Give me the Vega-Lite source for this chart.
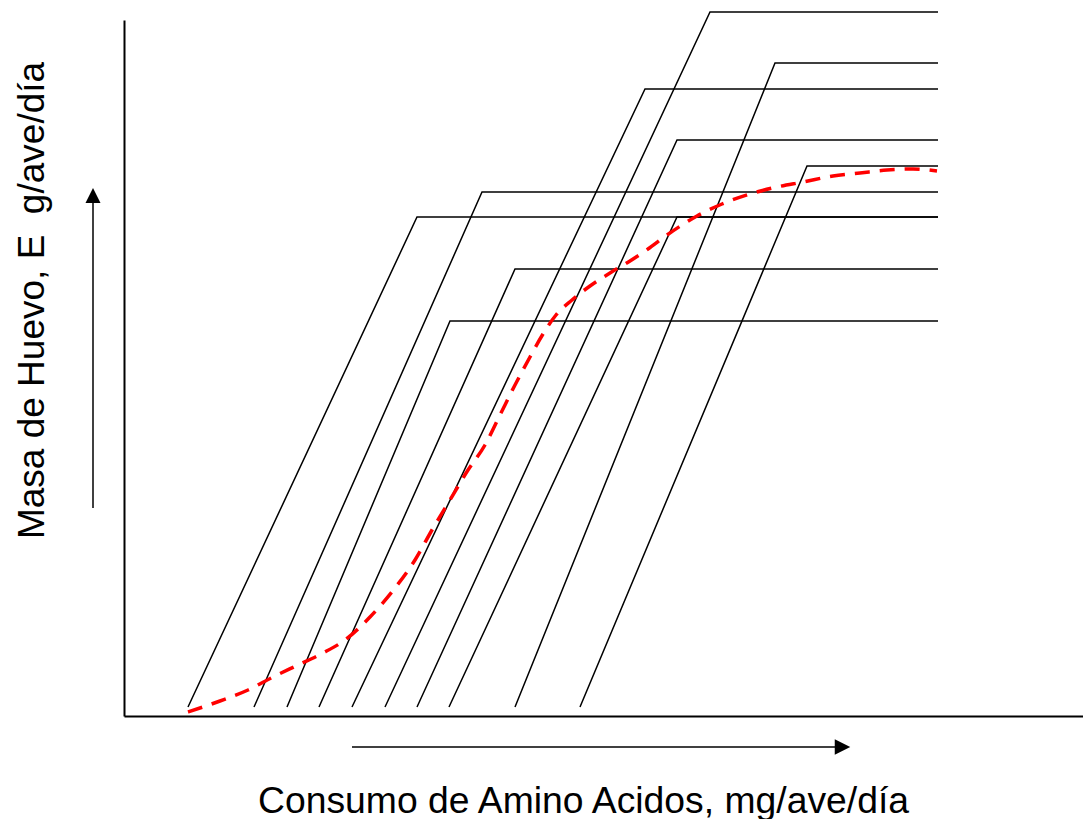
{
  "$schema": "https://vega.github.io/schema/vega-lite/v6.json",
  "width": 959,
  "height": 696,
  "autosize": {"type": "none"},
  "padding": {"left": 124, "top": 20, "right": 0, "bottom": 103},
  "background": "white",
  "config": {
    "view": {"stroke": null},
    "axis": {"grid": false, "ticks": false, "labels": false, "domainColor": "black", "domainWidth": 2,
      "titleFont": "Liberation Sans", "titleFontSize": 37, "titleFontWeight": "normal", "titleColor": "black"}
  },
  "datasets": {
    "lines": [
      {"id": 1, "ord": 0, "x": 64, "y": 9}, {"id": 1, "ord": 1, "x": 293, "y": 499}, {"id": 1, "ord": 2, "x": 814, "y": 499},
      {"id": 2, "ord": 0, "x": 130, "y": 9}, {"id": 2, "ord": 1, "x": 358, "y": 524}, {"id": 2, "ord": 2, "x": 814, "y": 524},
      {"id": 3, "ord": 0, "x": 163, "y": 9}, {"id": 3, "ord": 1, "x": 326, "y": 395}, {"id": 3, "ord": 2, "x": 814, "y": 395},
      {"id": 4, "ord": 0, "x": 195, "y": 9}, {"id": 4, "ord": 1, "x": 391, "y": 447}, {"id": 4, "ord": 2, "x": 814, "y": 447},
      {"id": 5, "ord": 0, "x": 228, "y": 9}, {"id": 5, "ord": 1, "x": 521, "y": 627}, {"id": 5, "ord": 2, "x": 814, "y": 627},
      {"id": 6, "ord": 0, "x": 261, "y": 9}, {"id": 6, "ord": 1, "x": 586, "y": 704}, {"id": 6, "ord": 2, "x": 814, "y": 704},
      {"id": 7, "ord": 0, "x": 293, "y": 9}, {"id": 7, "ord": 1, "x": 553, "y": 576}, {"id": 7, "ord": 2, "x": 814, "y": 576},
      {"id": 8, "ord": 0, "x": 325, "y": 9}, {"id": 8, "ord": 1, "x": 553, "y": 499}, {"id": 8, "ord": 2, "x": 814, "y": 499},
      {"id": 9, "ord": 0, "x": 391, "y": 9}, {"id": 9, "ord": 1, "x": 651, "y": 653}, {"id": 9, "ord": 2, "x": 814, "y": 653},
      {"id": 10, "ord": 0, "x": 456, "y": 9}, {"id": 10, "ord": 1, "x": 683, "y": 550}, {"id": 10, "ord": 2, "x": 814, "y": 550}
    ],
    "curve": [
      {"x": 64, "y": 4}, {"x": 96, "y": 15}, {"x": 124, "y": 26}, {"x": 149, "y": 39}, {"x": 174, "y": 51},
      {"x": 199, "y": 63}, {"x": 221, "y": 76}, {"x": 246, "y": 99}, {"x": 271, "y": 128}, {"x": 291, "y": 156},
      {"x": 308, "y": 186}, {"x": 326, "y": 216}, {"x": 344, "y": 246}, {"x": 361, "y": 271}, {"x": 376, "y": 301},
      {"x": 391, "y": 331}, {"x": 406, "y": 359}, {"x": 419, "y": 382}, {"x": 432, "y": 401}, {"x": 448, "y": 416},
      {"x": 466, "y": 430}, {"x": 486, "y": 443}, {"x": 506, "y": 455}, {"x": 524, "y": 467}, {"x": 543, "y": 481},
      {"x": 573, "y": 500}, {"x": 598, "y": 512}, {"x": 626, "y": 522}, {"x": 653, "y": 529}, {"x": 679, "y": 534},
      {"x": 709, "y": 540}, {"x": 736, "y": 543}, {"x": 763, "y": 546}, {"x": 789, "y": 547}, {"x": 813, "y": 545}
    ],
    "shafts": [
      {"x": -31, "y": 208, "x2": -31, "y2": 515},
      {"x": 228, "y": -31, "x2": 713, "y2": -31}
    ],
    "headUp": [{"x": -31, "y": 520.5}],
    "headRight": [{"x": 718.5, "y": -31}]
  },
  "layer": [
    {
      "data": {"name": "lines"},
      "mark": {"type": "line", "color": "black", "strokeWidth": 1.5},
      "encoding": {
        "x": {"field": "x", "type": "quantitative", "scale": {"domain": [0, 959], "nice": false, "zero": false},
          "axis": {"title": "Consumo de Amino Acidos, mg/ave/día", "titleX": 459, "titleY": 96, "titleBaseline": "alphabetic", "titleAlign": "center", "titleFontSize": 37.3}},
        "y": {"field": "y", "type": "quantitative", "scale": {"domain": [0, 696], "nice": false, "zero": false},
          "axis": {"title": "Masa de Huevo, E\u00a0 g/ave/día", "titleX": -81, "titleY": 280, "titleAngle": -90, "titleBaseline": "alphabetic", "titleAlign": "center"}},
        "detail": {"field": "id"},
        "order": {"field": "ord"}
      }
    },
    {
      "data": {"name": "curve"},
      "mark": {"type": "line", "color": "#ff0000", "strokeWidth": 3.5, "strokeDash": [15, 10], "interpolate": "monotone"},
      "encoding": {
        "x": {"field": "x", "type": "quantitative"},
        "y": {"field": "y", "type": "quantitative"}
      }
    },
    {
      "data": {"name": "shafts"},
      "mark": {"type": "rule", "color": "black", "strokeWidth": 1.5},
      "encoding": {
        "x": {"field": "x", "type": "quantitative"},
        "y": {"field": "y", "type": "quantitative"},
        "x2": {"field": "x2"},
        "y2": {"field": "y2"}
      }
    },
    {
      "data": {"name": "headUp"},
      "mark": {"type": "point", "shape": "M0,-1L-1,1L1,1Z", "filled": true, "color": "black", "opacity": 1, "size": 225},
      "encoding": {
        "x": {"field": "x", "type": "quantitative"},
        "y": {"field": "y", "type": "quantitative"}
      }
    },
    {
      "data": {"name": "headRight"},
      "mark": {"type": "point", "shape": "M1,0L-1,-1L-1,1Z", "filled": true, "color": "black", "opacity": 1, "size": 240},
      "encoding": {
        "x": {"field": "x", "type": "quantitative"},
        "y": {"field": "y", "type": "quantitative"}
      }
    }
  ]
}
